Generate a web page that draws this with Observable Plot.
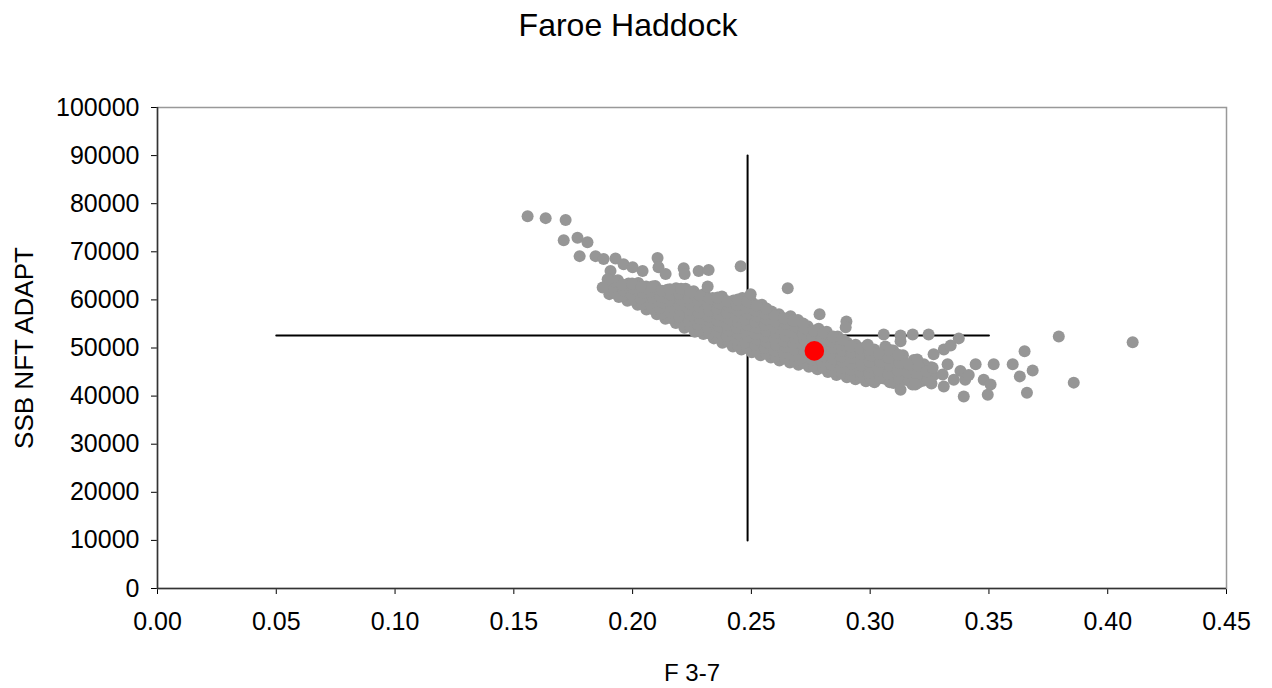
<!DOCTYPE html>
<html><head><meta charset="utf-8">
<script src="https://cdn.jsdelivr.net/npm/d3@7"></script>
<script src="https://cdn.jsdelivr.net/npm/@observablehq/plot@0.6"></script>
<style>
body{margin:0;background:#fff;font-family:"Liberation Sans",Arial,sans-serif;}
#title{width:1272px;height:50px;line-height:50px;text-align:center;font-size:32px;color:#000;box-sizing:border-box;padding-right:16px;}
</style></head><body>
<div id="title">Faroe Haddock</div>
<div id="chart"></div>
<script>
// Axis settings
const xDomain = [0, 0.45];
const yDomain = [0, 100000];
const xTicks = [0, 0.05, 0.10, 0.15, 0.20, 0.25, 0.30, 0.35, 0.40, 0.45];
const yTicks = [0, 10000, 20000, 30000, 40000, 50000, 60000, 70000, 80000, 90000, 100000];

// Crosshair (percentile ranges)
const hLineF = [0.05, 0.35];
const hLineSSB = 52600;
const vLineF = 0.2484;
const vLineSSB = [10000, 90000];

// Deterministic (point estimate)
const pointF = [0.2765];
const pointSSB = [49400];

// Bootstrap replicates: dense band [F 3-7, SSB]
const bandPoints = [
[0.1902,61200],[0.1896,62400],[0.1905,63500],
[0.1942,60600],[0.1936,61800],[0.1945,63000],[0.1938,64100],
[0.1978,59800],[0.1985,61000],[0.1975,62200],[0.1983,63400],
[0.2021,59000],[0.2015,60200],[0.2026,61400],[0.2018,62600],[0.2024,63500],
[0.2058,58000],[0.2066,59200],[0.2055,60400],[0.2063,61600],[0.2057,62800],
[0.2102,57000],[0.2096,58200],[0.2106,59400],[0.2098,60600],[0.2104,61800],[0.2095,62900],
[0.2138,56100],[0.2145,57300],[0.2136,58500],[0.2144,59700],[0.2137,60900],[0.2146,62100],
[0.2182,55200],[0.2175,56400],[0.2186,57600],[0.2178,58800],[0.2184,60000],[0.2176,61200],[0.2183,62400],
[0.2218,54200],[0.2225,55400],[0.2216,56600],[0.2224,57800],[0.2217,59000],[0.2226,60200],[0.2219,61400],[0.2223,62300],
[0.2262,53400],[0.2255,54600],[0.2266,55800],[0.2258,57000],[0.2264,58200],[0.2256,59400],[0.2263,60600],[0.2257,61800],
[0.2298,52900],[0.2305,54100],[0.2296,55300],[0.2304,56500],[0.2297,57700],[0.2306,58900],[0.2299,60100],[0.2303,61300],
[0.2342,52000],[0.2335,53200],[0.2346,54400],[0.2338,55600],[0.2344,56800],[0.2336,58000],[0.2343,59200],[0.2337,60400],
[0.2378,51100],[0.2385,52300],[0.2376,53500],[0.2384,54700],[0.2377,55900],[0.2386,57100],[0.2379,58300],[0.2383,59500],[0.2376,60700],
[0.2422,50300],[0.2415,51500],[0.2426,52700],[0.2418,53900],[0.2424,55100],[0.2416,56300],[0.2423,57500],[0.2417,58700],[0.2425,59900],
[0.2458,49700],[0.2465,50900],[0.2456,52100],[0.2464,53300],[0.2457,54500],[0.2466,55700],[0.2459,56900],[0.2463,58100],[0.2456,59300],[0.2462,60400],
[0.2502,49100],[0.2495,50300],[0.2506,51500],[0.2498,52700],[0.2504,53900],[0.2496,55100],[0.2503,56300],[0.2497,57500],[0.2505,58700],[0.2499,59700],
[0.2538,48500],[0.2545,49700],[0.2536,50900],[0.2544,52100],[0.2537,53300],[0.2546,54500],[0.2539,55700],[0.2543,56900],[0.2536,58100],[0.2544,59000],
[0.2582,48000],[0.2575,49200],[0.2586,50400],[0.2578,51600],[0.2584,52800],[0.2576,54000],[0.2583,55200],[0.2577,56400],[0.2585,57600],
[0.2618,47400],[0.2625,48600],[0.2616,49800],[0.2624,51000],[0.2617,52200],[0.2626,53400],[0.2619,54600],[0.2623,55800],[0.2616,57000],
[0.2662,47000],[0.2655,48200],[0.2666,49400],[0.2658,50600],[0.2664,51800],[0.2656,53000],[0.2663,54200],[0.2657,55400],[0.2665,56600],
[0.2698,46500],[0.2705,47700],[0.2696,48900],[0.2704,50100],[0.2697,51300],[0.2706,52500],[0.2699,53700],[0.2703,54900],[0.2696,55800],
[0.2742,46100],[0.2735,47300],[0.2746,48500],[0.2738,49700],[0.2744,50900],[0.2736,52100],[0.2743,53300],[0.2737,54500],
[0.2778,45600],[0.2785,46800],[0.2776,48000],[0.2784,49200],[0.2777,50400],[0.2786,51600],[0.2779,52800],[0.2783,54000],
[0.2822,45000],[0.2815,46200],[0.2826,47400],[0.2818,48600],[0.2824,49800],[0.2816,51000],[0.2823,52200],[0.2817,53400],
[0.2858,44400],[0.2865,45600],[0.2856,46800],[0.2864,48000],[0.2857,49200],[0.2866,50400],[0.2859,51600],[0.2863,52400],
[0.2902,43900],[0.2895,45100],[0.2906,46300],[0.2898,47500],[0.2904,48700],[0.2896,49900],[0.2903,51100],
[0.2938,43500],[0.2945,44700],[0.2936,45900],[0.2944,47100],[0.2937,48300],[0.2946,49500],[0.2939,50700],
[0.2982,43100],[0.2975,44300],[0.2986,45500],[0.2978,46700],[0.2984,47900],[0.2976,49100],[0.2983,50300],
[0.3018,42900],[0.3025,44600],[0.3016,46300],[0.3024,48000],[0.3017,49700],
[0.3062,43600],[0.3055,45300],[0.3066,47000],[0.3058,48700],[0.3064,50300],
[0.3098,42700],[0.3105,44400],[0.3096,46100],[0.3104,47800],[0.3097,49500],
[0.3142,43400],[0.3135,45100],[0.3146,46800],[0.3138,48500],
[0.3178,42400],[0.3185,44100],[0.3176,45800],[0.3184,47500],
[0.3222,43200],[0.3215,44900],[0.3226,46600],
[0.3258,42600],[0.3265,44300],[0.3256,46000]
];

// Bootstrap replicates: dense band, in-between replicates
const bandFillPoints = [
[0.1923,61500],[0.1917,62700],[0.1924,63900],
[0.1957,60800],[0.1963,62000],[0.1956,63200],
[0.2003,60000],[0.1997,61200],[0.2004,62400],[0.1998,63400],
[0.2043,59100],[0.2037,60300],[0.2044,61500],[0.2038,62700],
[0.2083,58100],[0.2077,59300],[0.2084,60500],[0.2078,61700],[0.2083,62800],
[0.2123,57100],[0.2117,58300],[0.2124,59500],[0.2118,60700],[0.2123,61900],
[0.2163,56200],[0.2157,57400],[0.2164,58600],[0.2158,59800],[0.2163,61000],[0.2157,62200],
[0.2203,55300],[0.2197,56500],[0.2204,57700],[0.2198,58900],[0.2203,60100],[0.2197,61300],[0.2204,62300],
[0.2243,54400],[0.2237,55600],[0.2244,56800],[0.2238,58000],[0.2243,59200],[0.2237,60400],[0.2244,61600],
[0.2283,53700],[0.2277,54900],[0.2284,56100],[0.2278,57300],[0.2283,58500],[0.2277,59700],[0.2284,60900],
[0.2323,53000],[0.2317,54200],[0.2324,55400],[0.2318,56600],[0.2323,57800],[0.2317,59000],[0.2324,60200],
[0.2363,52100],[0.2357,53300],[0.2364,54500],[0.2358,55700],[0.2363,56900],[0.2357,58100],[0.2364,59300],[0.2358,60500],
[0.2403,51300],[0.2397,52500],[0.2404,53700],[0.2398,54900],[0.2403,56100],[0.2397,57300],[0.2404,58500],[0.2398,59700],
[0.2443,50600],[0.2437,51800],[0.2444,53000],[0.2438,54200],[0.2443,55400],[0.2437,56600],[0.2444,57800],[0.2438,59000],[0.2443,60100],
[0.2483,50000],[0.2477,51200],[0.2484,52400],[0.2478,53600],[0.2483,54800],[0.2477,56000],[0.2484,57200],[0.2478,58400],[0.2483,59600],
[0.2523,49400],[0.2517,50600],[0.2524,51800],[0.2518,53000],[0.2523,54200],[0.2517,55400],[0.2524,56600],[0.2518,57800],[0.2523,58900],
[0.2563,48800],[0.2557,50000],[0.2564,51200],[0.2558,52400],[0.2563,53600],[0.2557,54800],[0.2564,56000],[0.2558,57200],[0.2563,58200],
[0.2603,48300],[0.2597,49500],[0.2604,50700],[0.2598,51900],[0.2603,53100],[0.2597,54300],[0.2604,55500],[0.2598,56700],
[0.2643,47800],[0.2637,49000],[0.2644,50200],[0.2638,51400],[0.2643,52600],[0.2637,53800],[0.2644,55000],[0.2638,56200],
[0.2683,47300],[0.2677,48500],[0.2684,49700],[0.2678,50900],[0.2683,52100],[0.2677,53300],[0.2684,54500],[0.2678,55700],
[0.2723,46900],[0.2717,48100],[0.2724,49300],[0.2718,50500],[0.2723,51700],[0.2717,52900],[0.2724,54100],[0.2718,55100],
[0.2763,46400],[0.2757,47600],[0.2764,48800],[0.2758,50000],[0.2763,51200],[0.2757,52400],[0.2764,53600],
[0.2803,45900],[0.2797,47100],[0.2804,48300],[0.2798,49500],[0.2803,50700],[0.2797,51900],[0.2804,53100],
[0.2843,45300],[0.2837,46500],[0.2844,47700],[0.2838,48900],[0.2843,50100],[0.2837,51300],[0.2844,52400],
[0.2883,44700],[0.2877,45900],[0.2884,47100],[0.2878,48300],[0.2883,49500],[0.2877,50700],[0.2884,51700],
[0.2923,44300],[0.2917,45500],[0.2924,46700],[0.2918,47900],[0.2923,49100],[0.2917,50300],
[0.2963,43900],[0.2957,45100],[0.2964,46300],[0.2958,47500],[0.2963,48700],[0.2957,49900],
[0.3003,43600],[0.2997,44800],[0.3004,46000],[0.2998,47200],[0.3003,48400],[0.2997,49600],
[0.3043,43700],[0.3037,45400],[0.3044,47100],[0.3038,48800],
[0.3083,42900],[0.3077,44600],[0.3084,46300],[0.3078,48000],[0.3083,49600],
[0.3123,43500],[0.3117,45200],[0.3124,46900],[0.3118,48600],
[0.3163,43200],[0.3157,44900],[0.3164,46600],
[0.3203,42800],[0.3197,44500],[0.3204,46200],[0.3198,47600],
[0.3243,43400],[0.3237,45100]
];

// Bootstrap replicates: scattered points (upper-left tail)
const upperLeftPoints = [
[0.1558,77400],[0.1634,77000],[0.1718,76600],[0.1710,72400],[0.1768,72900],[0.1810,72000],
[0.1777,69100],[0.1844,69100],[0.1878,68500],[0.1928,68600],[0.1962,67400],[0.2000,66800],
[0.2042,66000],[0.2105,68700],[0.2109,66800],[0.2139,65400],[0.2215,66600],[0.2219,65400],
[0.2278,66000],[0.2320,66200],[0.2316,62800],[0.2455,67000],[0.1907,66000],[0.1895,64300],
[0.1874,62600],[0.2497,61200],[0.2653,62400],[0.2787,57000],[0.2900,55500],[0.2897,54300]
];

// Bootstrap replicates: scattered points (lower-right tail)
const lowerRightPoints = [
[0.2990,50700],[0.3057,52800],[0.3128,52600],[0.3179,52800],[0.3246,52800],[0.3373,52000],
[0.3128,51400],[0.3267,48700],[0.3310,49700],[0.3339,50500],[0.3263,45900],[0.3326,46600],
[0.3444,46600],[0.3520,46600],[0.3600,46600],[0.3650,49300],[0.3630,44100],[0.3684,45300],
[0.3660,40700],[0.3394,39900],[0.3495,40300],[0.3478,43400],[0.3507,42400],[0.3400,43400],
[0.3310,42000],[0.3352,43400],[0.3794,52400],[0.3857,42800],[0.4105,51200],[0.3128,41300],
[0.3190,42400],[0.3305,44500],[0.3380,45200],[0.3415,44400]
];

const grey = "#969696";
const cloud = bandPoints.concat(bandFillPoints, upperLeftPoints, lowerRightPoints);

const chart = Plot.plot({
  width: 1272,
  height: 638,
  marginTop: 57,
  marginBottom: 100,
  marginLeft: 157,
  marginRight: 46,
  style: {fontFamily: '"Liberation Sans", Arial, sans-serif', fontSize: "25px", color: "#000", background: "#fff"},
  x: {domain: xDomain, ticks: xTicks, tickFormat: d => d.toFixed(2), tickSize: 6, tickPadding: 18,
      label: "F 3-7", labelAnchor: "center", labelArrow: "none", labelOffset: 92},
  y: {domain: yDomain, ticks: yTicks, tickFormat: d => String(d), tickSize: 6, tickPadding: 12,
      label: "SSB NFT ADAPT", labelAnchor: "center", labelArrow: "none", labelOffset: 143},
  marks: [
    Plot.frame({stroke: "#999", strokeWidth: 1.5}),
    Plot.ruleX([xDomain[0]], {stroke: "#333", strokeWidth: 1.5}),
    Plot.ruleY([yDomain[0]], {stroke: "#333", strokeWidth: 1.5}),
    Plot.line(hLineF.map(f => ({f, s: hLineSSB})), {x: "f", y: "s", stroke: "#000", strokeWidth: 2}),
    Plot.line(vLineSSB.map(s => ({f: vLineF, s})), {x: "f", y: "s", stroke: "#000", strokeWidth: 2}),
    Plot.dot(cloud, {x: d => d[0], y: d => d[1], r: 6, fill: grey, stroke: "none"}),
    Plot.dot(pointF.map((f, i) => ({f, s: pointSSB[i]})), {x: "f", y: "s", r: 9.8, fill: "#ff0000", stroke: "none"})
  ]
});
d3.select(chart).select('g[aria-label="y-axis label"]').attr("font-size", 26);
d3.select(chart).select('g[aria-label="x-axis label"]').attr("font-size", 24);
document.getElementById("chart").appendChild(chart);
</script>
</body></html>
